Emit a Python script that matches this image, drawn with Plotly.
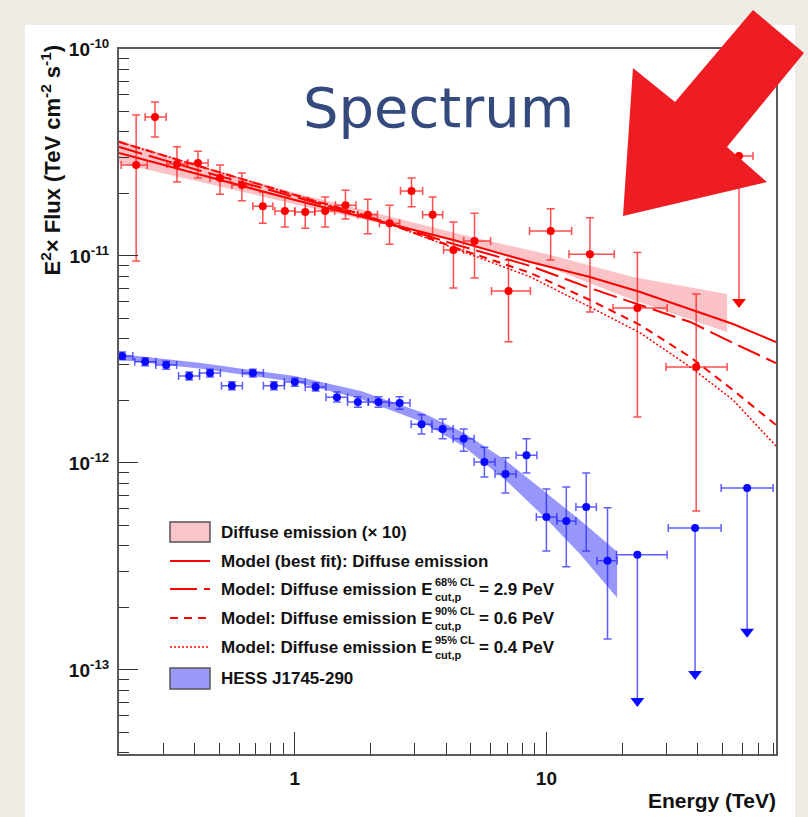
import plotly.graph_objects as go
import numpy as np

# ---------------- Diffuse emission (x10) : flux points ----------------
diff_E    = [0.234, 0.278, 0.340, 0.412, 0.504, 0.616, 0.746, 0.913, 1.10, 1.32, 1.59,
             1.95, 2.38, 2.91, 3.53, 4.27, 5.18, 7.07, 10.4, 14.9, 23.0, 39.4]
diff_E_lo = [0.204, 0.254, 0.310, 0.376, 0.460, 0.562, 0.681, 0.833, 1.00, 1.20, 1.45,
             1.78, 2.17, 2.63, 3.22, 3.90, 4.69, 6.05, 8.57, 12.3, 18.4, 29.9]
diff_E_hi = [0.259, 0.308, 0.373, 0.452, 0.552, 0.675, 0.818, 1.00, 1.20, 1.44, 1.75,
             2.13, 2.61, 3.22, 3.87, 4.69, 6.00, 8.64, 12.6, 18.6, 30.2, 52.3]
diff_F    = [2.75e-11, 4.69e-11, 2.78e-11, 2.81e-11, 2.38e-11, 2.20e-11, 1.74e-11, 1.65e-11,
             1.63e-11, 1.65e-11, 1.76e-11, 1.58e-11, 1.44e-11, 2.06e-11, 1.58e-11, 1.07e-11,
             1.18e-11, 6.78e-12, 1.32e-11, 1.02e-11, 5.61e-12, 2.91e-12]
diff_F_hi = [4.80e-11, 5.55e-11, 3.37e-11, 3.21e-11, 2.75e-11, 2.52e-11, 2.04e-11, 1.93e-11,
             1.91e-11, 1.93e-11, 2.08e-11, 1.88e-11, 1.76e-11, 2.38e-11, 1.93e-11, 1.46e-11,
             1.61e-11, 9.57e-12, 1.69e-11, 1.53e-11, 1.04e-11, 6.55e-12]
diff_F_lo = [9.46e-12, 3.76e-11, 2.28e-11, 2.38e-11, 1.99e-11, 1.85e-11, 1.44e-11, 1.38e-11,
             1.36e-11, 1.38e-11, 1.51e-11, 1.28e-11, 1.14e-11, 1.73e-11, 1.26e-11, 7.00e-12,
             7.83e-12, 3.85e-12, 9.57e-12, 5.36e-12, 1.67e-12, 5.86e-13]

# upper limit of the diffuse emission
diff_ul_E     = [58.3]
diff_ul_E_lo  = [52.3]
diff_ul_E_hi  = [66.3]
diff_ul_F     = [3.04e-11]
diff_ul_arrow = [6.0e-12]

# ---------------- HESS J1745-290 : flux points ----------------
hess_E    = [0.206, 0.254, 0.308, 0.380, 0.460, 0.562, 0.681, 0.826, 1.00, 1.21, 1.47, 1.78,
             2.15, 2.61, 3.19, 3.87, 4.69, 5.67, 6.88, 8.33, 10.0, 12.0, 14.4, 17.5]
hess_E_lo = [0.187, 0.231, 0.280, 0.345, 0.418, 0.511, 0.619, 0.750, 0.909, 1.10, 1.33, 1.62,
             1.96, 2.37, 2.90, 3.51, 4.26, 5.16, 6.25, 7.58, 9.12, 11.0, 13.1, 15.9]
hess_E_hi = [0.227, 0.280, 0.339, 0.418, 0.506, 0.619, 0.750, 0.909, 1.10, 1.33, 1.62, 1.96,
             2.37, 2.87, 3.51, 4.26, 5.16, 6.25, 7.58, 9.17, 11.0, 13.1, 15.8, 19.1]
hess_F    = [3.29e-12, 3.08e-12, 2.97e-12, 2.63e-12, 2.72e-12, 2.36e-12, 2.72e-12, 2.36e-12,
             2.46e-12, 2.33e-12, 2.08e-12, 1.97e-12, 1.97e-12, 1.95e-12, 1.54e-12, 1.46e-12,
             1.31e-12, 1.01e-12, 8.85e-13, 1.09e-12, 5.48e-13, 5.25e-13, 6.13e-13, 3.37e-13]
hess_F_hi = [3.44e-12, 3.22e-12, 3.10e-12, 2.75e-12, 2.84e-12, 2.47e-12, 2.84e-12, 2.47e-12,
             2.57e-12, 2.44e-12, 2.20e-12, 2.09e-12, 2.09e-12, 2.09e-12, 1.71e-12, 1.63e-12,
             1.46e-12, 1.19e-12, 1.06e-12, 1.31e-12, 7.48e-13, 7.65e-13, 8.95e-13, 6.07e-13]
hess_F_lo = [3.15e-12, 2.95e-12, 2.84e-12, 2.52e-12, 2.60e-12, 2.26e-12, 2.60e-12, 2.26e-12,
             2.35e-12, 2.23e-12, 1.97e-12, 1.86e-12, 1.86e-12, 1.82e-12, 1.38e-12, 1.31e-12,
             1.14e-12, 8.55e-13, 7.16e-13, 8.95e-13, 3.76e-13, 3.15e-13, 3.76e-13, 1.41e-13]

# upper limits of HESS J1745-290
hess_ul_E     = [23.0, 39.0, 62.8]
hess_ul_E_lo  = [19.0, 30.5, 49.5]
hess_ul_E_hi  = [30.2, 49.5, 79.6]
hess_ul_F     = [3.60e-13, 4.85e-13, 7.57e-13]
hess_ul_arrow = [7.08e-14, 9.57e-14, 1.53e-13]

# ---------------- model curves (E^2 x flux) ----------------
model_E    = [0.2, 0.424, 1.0, 2.0, 4.27, 8.64, 14.9, 23.6, 37.3, 55.2, 81.8]
model_best = [3.145e-11, 2.461e-11, 1.864e-11, 1.509e-11, 1.195e-11, 9.35e-12, 7.92e-12,
              6.70e-12, 5.55e-12, 4.69e-12, 3.84e-12]
model_68   = [3.362e-11, 2.574e-11, 1.928e-11, 1.526e-11, 1.143e-11, 8.95e-12, 7.00e-12,
              5.80e-12, 4.80e-12, 3.80e-12, 3.04e-12]
model_90   = [3.554e-11, 2.692e-11, 1.971e-11, 1.543e-11, 1.105e-11, 8.28e-12, 6.13e-12,
              4.64e-12, 3.25e-12, 2.25e-12, 1.526e-12]
model_95   = [3.554e-11, 2.692e-11, 1.971e-11, 1.543e-11, 1.093e-11, 7.92e-12, 5.67e-12,
              4.25e-12, 2.91e-12, 2.015e-12, 1.208e-12]

# ---------------- fit bands ----------------
diff_band_E  = [0.2, 0.424, 1.0, 2.63, 4.86, 10.4, 22.1, 52.3]
diff_band_hi = [3.63e-11, 2.72e-11, 2.02e-11, 1.51e-11, 1.25e-11, 1.01e-11, 7.92e-12, 6.55e-12]
diff_band_lo = [2.81e-11, 2.28e-11, 1.78e-11, 1.37e-11, 1.13e-11, 8.75e-12, 6.13e-12, 4.29e-12]

hess_band_E  = [0.2, 0.424, 1.0, 1.83, 3.19, 4.69, 6.88, 10.0, 13.6, 19.1]
hess_band_hi = [3.36e-12, 3.04e-12, 2.63e-12, 2.23e-12, 1.76e-12, 1.40e-12, 1.03e-12,
                7.16e-13, 5.30e-13, 3.72e-13]
hess_band_lo = [3.15e-12, 2.85e-12, 2.46e-12, 2.04e-12, 1.58e-12, 1.20e-12, 8.28e-13,
                5.36e-13, 3.63e-13, 2.23e-13]

# ---------------- axis ticks ----------------
y_major = [1e-13, 1e-12, 1e-11, 1e-10]
y_major_text = ["10<sup>-13</sup>", "10<sup>-12</sup>", "10<sup>-11</sup>", "10<sup>-10</sup>"]
x_major = [1, 10]
x_major_text = ["1", "10"]

# ---------------- geometry / style ----------------
W, H = 808, 817
ML, MR, MT, MB = 119, 32, 49, 63
PW, PH = W - ML - MR, H - MT - MB
FONT = "Liberation Sans, Arial, Helvetica, sans-serif"
RED = "#ff0000"
BLUE = "#0a0aff"


def px(xp):
    return (xp - ML) / PW


def py(yp):
    return (H - MB - yp) / PH


def asym(vals, lo, hi):
    return (np.array(hi) - np.array(vals)).tolist(), (np.array(vals) - np.array(lo)).tolist()


fig = go.Figure()

# bands
fig.add_trace(go.Scatter(
    x=diff_band_E + diff_band_E[::-1], y=diff_band_hi + diff_band_lo[::-1],
    fill="toself", fillcolor="#fcc3c7", line=dict(width=0), mode="lines", hoverinfo="skip"))
fig.add_trace(go.Scatter(
    x=hess_band_E + hess_band_E[::-1], y=hess_band_hi + hess_band_lo[::-1],
    fill="toself", fillcolor="rgba(110,110,250,0.72)", line=dict(width=0), mode="lines",
    hoverinfo="skip"))

# model curves
for vals, dash, w in [(model_best, "solid", 2), (model_68, "24px,7px", 2),
                      (model_90, "8px,6px", 2), (model_95, "2px,2px", 1.5)]:
    fig.add_trace(go.Scatter(x=model_E, y=vals, mode="lines",
                             line=dict(color=RED, width=w, dash=dash)))


def points(E, E_lo, E_hi, F, F_lo, F_hi, color, err_color):
    ey, eym = asym(F, F_lo, F_hi)
    ex, exm = asym(E, E_lo, E_hi)
    return go.Scatter(
        x=E, y=F, mode="markers",
        marker=dict(color=color, size=8, symbol="circle"),
        error_y=dict(type="data", symmetric=False, array=ey, arrayminus=eym,
                     color=err_color, thickness=1.5, width=4),
        error_x=dict(type="data", symmetric=False, array=ex, arrayminus=exm,
                     color=err_color, thickness=1.5, width=4))


def upper_limits(E, E_lo, E_hi, F, F_end, color, err_color):
    xs, ys = [], []
    for e, f, t in zip(E, F, F_end):
        xs += [e, e, None]
        ys += [f, t, None]
    ex, exm = asym(E, E_lo, E_hi)
    stems = go.Scatter(x=xs, y=ys, mode="lines", line=dict(color=err_color, width=1.5))
    heads = go.Scatter(x=E, y=F_end, mode="markers",
                       marker=dict(symbol="triangle-down", size=12, color=color))
    dots = go.Scatter(
        x=E, y=F, mode="markers", marker=dict(color=color, size=8),
        error_x=dict(type="data", symmetric=False, array=ex, arrayminus=exm,
                     color=err_color, thickness=1.5, width=4))
    return [stems, heads, dots]


fig.add_trace(points(diff_E, diff_E_lo, diff_E_hi, diff_F, diff_F_lo, diff_F_hi,
                     RED, "rgba(255,20,20,0.75)"))
for tr in upper_limits(diff_ul_E, diff_ul_E_lo, diff_ul_E_hi, diff_ul_F, diff_ul_arrow,
                       RED, "rgba(255,20,20,0.75)"):
    fig.add_trace(tr)

fig.add_trace(points(hess_E, hess_E_lo, hess_E_hi, hess_F, hess_F_lo, hess_F_hi,
                     BLUE, "rgba(40,40,255,0.75)"))
for tr in upper_limits(hess_ul_E, hess_ul_E_lo, hess_ul_E_hi, hess_ul_F, hess_ul_arrow,
                       BLUE, "rgba(40,40,255,0.75)"):
    fig.add_trace(tr)

# ---------------- axes ----------------
y_minor = [k * 10.0 ** e for e in range(-14, -10) for k in range(2, 10)]
y_minor = [v for v in y_minor if 10 ** -13.406 < v < 1e-10]
x_minor = [k * 10.0 ** e for e in range(-1, 2) for k in range(2, 10)]
x_minor = [v for v in x_minor if 0.2 < v < 81.8]

tickfont = dict(family=FONT, size=19, color="#111", weight="bold")
fig.update_xaxes(
    type="log", range=[np.log10(0.2), np.log10(81.8)],
    showgrid=False, zeroline=False, showline=True, mirror=True,
    linecolor="#5a5a5a", linewidth=2,
    ticks="inside", ticklen=22, tickwidth=1.3, tickcolor="#333",
    tickvals=x_major, ticktext=x_major_text, tickfont=tickfont,
    ticklabelstandoff=6, automargin=False,
    minor=dict(tickvals=x_minor, ticks="inside", ticklen=11, tickwidth=1.3, tickcolor="#333"))
fig.update_yaxes(
    type="log", range=[-13.406, -10],
    showgrid=False, zeroline=False, showline=True, mirror=True,
    linecolor="#5a5a5a", linewidth=2,
    ticks="inside", ticklen=19, tickwidth=1.3, tickcolor="#333",
    tickvals=y_major, ticktext=y_major_text, tickfont=tickfont,
    ticklabelstandoff=4, automargin=False,
    minor=dict(tickvals=y_minor, ticks="inside", ticklen=10, tickwidth=1.3, tickcolor="#333"))

shapes = []
annotations = []

# white sheet behind the chart
shapes.append(dict(type="rect", xref="paper", yref="paper", layer="below",
                   x0=px(25), x1=px(795), y0=py(830), y1=py(25),
                   fillcolor="white", line=dict(width=0)))

# ---------------- legend ----------------
LX0, LX1, TX = px(170), px(210), px(219)
lfont = dict(family=FONT, size=17, color="#111", weight="bold")
sfont = dict(family=FONT, size=11, color="#111", weight="bold")

shapes.append(dict(type="rect", xref="paper", yref="paper", x0=LX0, x1=LX1,
                   y0=py(542), y1=py(522), fillcolor="#fcc5c9",
                   line=dict(color="#555", width=1.5)))
annotations.append(dict(text="Diffuse emission (× 10)", x=TX, y=py(532)))

line_entries = [
    (561, "solid", 2, "Model (best fit): Diffuse emission", None, None),
    (589, "27px,7px", 2, "Model: Diffuse emission E", "68% CL", "= 2.9 PeV"),
    (618, "8px,6px", 2, "Model: Diffuse emission E", "90% CL", "= 0.6 PeV"),
    (647, "2px,2px", 1.5, "Model: Diffuse emission E", "95% CL", "= 0.4 PeV"),
]
for ypix, dash, w, txt, sup, tail in line_entries:
    shapes.append(dict(type="line", xref="paper", yref="paper", x0=LX0, x1=LX1,
                       y0=py(ypix), y1=py(ypix), line=dict(color=RED, width=w, dash=dash)))
    annotations.append(dict(text=txt, x=TX, y=py(ypix)))
    if sup:
        annotations.append(dict(text=sup, x=px(433), y=py(ypix - 7), font=sfont))
        annotations.append(dict(text="cut,p", x=px(433), y=py(ypix + 8), font=sfont))
        annotations.append(dict(text=tail, x=px(477), y=py(ypix)))

shapes.append(dict(type="rect", xref="paper", yref="paper", x0=LX0, x1=LX1,
                   y0=py(689), y1=py(668), fillcolor="#9a9af8",
                   line=dict(color="#555", width=1.5)))
annotations.append(dict(text="HESS J1745-290", x=TX, y=py(678)))

for a in annotations:
    a.setdefault("font", lfont)
    a.update(xref="paper", yref="paper", xanchor="left", yanchor="middle",
             showarrow=False)

# axis titles
annotations.append(dict(
    text="E<sup>2</sup>× Flux (TeV cm<sup>-2</sup> s<sup>-1</sup>)",
    xref="paper", yref="paper", x=px(50), y=py(43), xanchor="center", yanchor="top",
    textangle=-90, showarrow=False, font=dict(family=FONT, size=22, color="#111", weight="bold")))
annotations.append(dict(
    text="Energy (TeV)", xref="paper", yref="paper", x=px(778), y=py(800),
    xanchor="right", yanchor="middle", showarrow=False,
    font=dict(family=FONT, size=21, color="#111", weight="bold")))

# slide heading
annotations.append(dict(
    text="Spectrum", xref="paper", yref="paper", x=px(438), y=py(107),
    xanchor="center", yanchor="middle", showarrow=False,
    font=dict(family="DejaVu Sans", size=56, color="#34497c")))

# big pointer arrow
arrow_pts = [(623, 216), (633, 68), (675, 102), (753, 10), (804, 53), (727, 147), (767, 182)]
path = "M " + " L ".join(f"{px(a):.4f},{py(b):.4f}" for a, b in arrow_pts) + " Z"
shapes.append(dict(type="path", xref="paper", yref="paper", path=path,
                   fillcolor="#ee1d23", line=dict(width=0), layer="above"))

fig.update_layout(
    width=W, height=H, margin=dict(l=ML, r=MR, t=MT, b=MB),
    paper_bgcolor="#efece6", plot_bgcolor="white", showlegend=False,
    font=dict(family=FONT), shapes=shapes, annotations=annotations)

fig.write_html("out.html", config={"displayModeBar": False})
